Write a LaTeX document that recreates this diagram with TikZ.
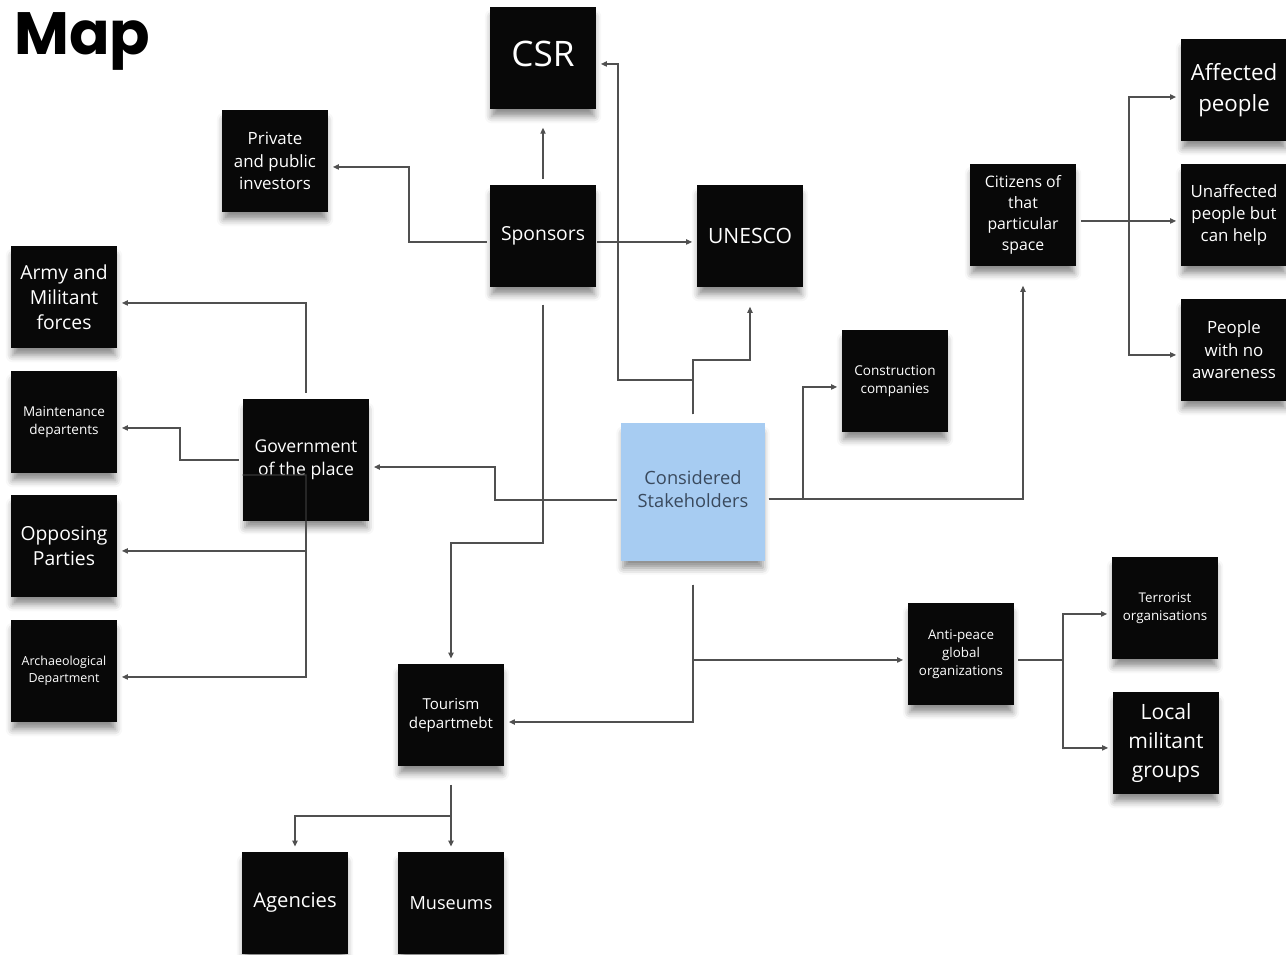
\documentclass[tikz,border=0pt]{standalone}
\usepackage{fontspec}
\setmainfont{Open Sans}
\newfontfamily\titlefont{Poppins}
\usetikzlibrary{arrows.meta,shadows.blur}

\definecolor{notebg}{RGB}{8,8,8}
\definecolor{stakebg}{RGB}{167,204,242}
\definecolor{staketext}{RGB}{58,74,94}
\definecolor{linkgray}{RGB}{80,80,80}
\definecolor{innergray}{RGB}{55,55,55}

\newcommand{\fs}[2]{\fontsize{#1}{#2}\selectfont}

\tikzset{
  x=0.02cm, y=-0.02cm,
  notebase/.style={inner sep=0pt, align=center,
    blur shadow={shadow xshift=0pt, shadow yshift=-5pt, shadow scale=0.97,
                 shadow blur radius=4pt, shadow opacity=45}},
  note/.style={notebase, fill=notebg, text=white,
    minimum width=2.12cm, minimum height=2.06cm},
  bignote/.style={notebase, fill=notebg, text=white,
    minimum width=2.52cm, minimum height=2.44cm},
  stakenote/.style={notebase, fill=stakebg, text=staketext,
    minimum width=2.88cm, minimum height=2.78cm},
  link/.style={draw=linkgray, line width=0.7pt,
    -{Triangle[length=3.4pt,width=3pt]},
    shorten <=1.8pt, shorten >=2.6pt},
  plain/.style={draw=linkgray, line width=0.7pt},
  dn5/.style={yshift=-2.8pt},
  dn6/.style={yshift=-3.4pt},
  dn7/.style={yshift=-4pt},
  dn8/.style={yshift=-4.5pt},
  dn15/.style={yshift=-8.5pt}
}

\begin{document}
\begin{tikzpicture}
\useasboundingbox (0,0) rectangle (1286,955);
\clip (0,0) rectangle (1286,955);

% title
\node[anchor=base west, inner sep=0pt, font=\titlefont\bfseries\fs{34}{36}] (title) at (14,55) {Map};

% bend points of the connectors
\coordinate (jpriv) at (409,0);
\coordinate (jtour) at (0,543);
\coordinate (jcsr) at (618,380);
\coordinate (juni) at (750,360);
\coordinate (jcons) at (803,0);
\coordinate (jgov) at (495,0);
\coordinate (jmaint) at (180,0);
\coordinate (jopp) at (306,475);
\coordinate (jmus) at (451,816);
\coordinate (jcit) at (1129,0);
\coordinate (janti) at (1063,0);

% sticky notes
\node[note, font=\fs{20}{24}, text depth=5pt] (csr) at (543,58) {CSR};
\node[note, font=\fs{9.6}{13}] (priv) at (275,161) {Private\\and public\\investors};
\node[note, font=\fs{11}{14}] (spons) at (543,236) {Sponsors};
\node[note, font=\fs{12}{14}] (unesco) at (750,236) {UNESCO};

\node[note, font=\fs{11}{14.2}] (army) at (64,297) {Army and\\Militant\\forces};
\node[note, font=\fs{7.7}{10.2}] (maint) at (64,422) {Maintenance\\departents};
\node[note, font=\fs{11}{14}] (opp) at (64,546) {Opposing\\Parties};
\node[note, font=\fs{7.1}{9.6}] (arch) at (64,671) {Archaeological\\Department};

\node[bignote, font=\fs{10}{13.2}] (gov) at (306,460) {Government\\of the place};
\node[stakenote, font=\fs{10.4}{13.6}] (stake) at (693,492) {Considered\\Stakeholders\\[-10.2pt]\mbox{}};
\node[note, font=\fs{7.7}{10.2}] (cons) at (895,381) {Construction\\companies};

\node[note, font=\fs{9}{12}] (cit) at (1023,215) {Citizens of\\that\\particular\\space};
\node[note, font=\fs{12.7}{17.5}] (aff) at (1234,90) {Affected\\people};
\node[note, font=\fs{9.6}{12.5}] (unaff) at (1234,215) {Unaffected\\people but\\can help};
\node[note, font=\fs{9.6}{12.8}] (noaw) at (1234,350) {People\\with no\\awareness};

\node[note, font=\fs{7.6}{10.2}] (anti) at (961,654) {Anti-peace\\global\\organizations};
\node[note, font=\fs{7.6}{10.2}] (terr) at (1165,608) {Terrorist\\organisations};
\node[note, font=\fs{12}{16.5}] (local) at (1166,743) {Local\\militant\\groups};

\node[note, font=\fs{8.6}{10.8}] (tour) at (451,715) {Tourism\\departmebt};
\node[note, font=\fs{11.5}{14}] (agen) at (295,903) {Agencies};
\node[note, font=\fs{10.3}{14}] (mus) at (451,903) {Museums};

% Sponsors
\draw[link, shorten <=2.8pt, shorten >=10.2pt] (spons.north) -- (csr.south);
\draw[link] ([dn6]spons.west) -- ([dn6]spons.west -| jpriv) |- ([dn6]priv.east);
\draw[link, shorten <=0.6pt] ([dn6]spons.east) -- ([dn6]unesco.west);
\draw[link, shorten <=9.6pt] (spons.south) -- (spons.south |- jtour) -| (tour.north);

% Considered Stakeholders
\draw[link, shorten <=4.5pt] (stake.north) |- (jcsr) |- ([dn6]csr.east);
\draw[link, shorten <=4.5pt, shorten >=10.8pt] (stake.north) |- (juni) -- (unesco.south -| juni);
\draw[link] ([dn7]stake.east) -- ([dn7]stake.east -| jcons) |- ([dn6]cons.west);
\draw[link, shorten >=10.8pt] ([dn7]stake.east) -| (cit.south);
\draw[link, shorten <=2.3pt] ([dn8]stake.west) -- ([dn8]stake.west -| jgov) |- ([dn7]gov.east);
\draw[link, shorten <=13pt] (stake.south) |- ([dn6]anti.west);
\draw[link, shorten <=13pt] (stake.south) |- ([dn7]tour.east);

% Government of the place
\draw[link, shorten <=3.4pt] (gov.north) |- ([dn6]army.east);
\draw[link, shorten <=2.3pt] (gov.west) -- (gov.west -| jmaint) |- ([dn6]maint.east);
\draw[draw=innergray, line width=0.7pt] ([dn15]gov.west) -- (jopp) -- (jopp |- gov.south);
\draw[link, shorten <=0pt] (jopp |- gov.south) |- ([dn5]opp.east);
\draw[link, shorten <=0pt] (jopp |- gov.south) |- ([dn6]arch.east);

% Tourism department
\draw[link, shorten <=10.2pt] (tour.south) -- (jmus) -| (agen.north);
\draw[link, shorten <=10.2pt] (tour.south) -- (mus.north);

% Citizens of that particular space
\draw[link, shorten <=2.8pt] ([dn6]cit.east) -- ([dn6]cit.east -| jcit) |- ([dn7]aff.west);
\draw[link, shorten <=2.8pt] ([dn6]cit.east) -- ([dn6]unaff.west);
\draw[link, shorten <=2.8pt] ([dn6]cit.east) -- ([dn6]cit.east -| jcit) |- ([dn5]noaw.west);

% Anti-peace global organizations
\draw[link, shorten <=2.3pt] ([dn6]anti.east) -- ([dn6]anti.east -| janti) |- ([dn6]terr.west);
\draw[link, shorten <=2.3pt] ([dn6]anti.east) -- ([dn6]anti.east -| janti) |- ([dn5]local.west);
\end{tikzpicture}
\end{document}
